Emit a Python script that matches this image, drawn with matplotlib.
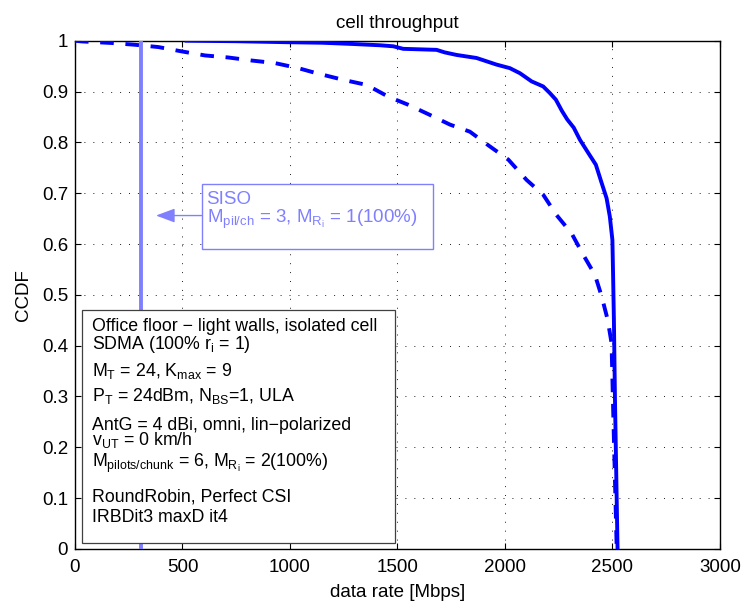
import numpy as np
import matplotlib.pyplot as plt
from matplotlib.patches import Rectangle

# Fonts: Helvetica-like look, math in the same regular font
plt.rcParams['font.family'] = ['Liberation Sans', 'DejaVu Sans']
plt.rcParams['mathtext.default'] = 'regular'

# Data
# solid curve (MIMO / SDMA)
mimo_rate = [519, 750, 991, 1150, 1295, 1420, 1481, 1527, 1682, 1720, 1775, 1868, 1961, 2023,
             2070, 2124, 2178, 2209, 2237, 2265, 2290, 2320, 2349, 2388, 2423, 2450, 2473,
             2488, 2500, 2503, 2507, 2512, 2520, 2524]
mimo_ccdf = [1.0, 0.999, 0.997, 0.996, 0.9935, 0.991, 0.989, 0.984, 0.982, 0.977, 0.972, 0.966,
             0.953, 0.946, 0.936, 0.920, 0.910, 0.897, 0.884, 0.862, 0.845, 0.829, 0.805,
             0.779, 0.756, 0.720, 0.690, 0.654, 0.608, 0.543, 0.45, 0.293, 0.096, 0.0]

# dashed curve
mimo2_rate = [0, 31, 171, 279, 388, 496, 605, 713, 822, 930, 1039, 1124, 1248, 1357, 1457,
              1550, 1651, 1744, 1837, 1930, 2016, 2101, 2178, 2240, 2310, 2364, 2419, 2450,
              2478, 2496, 2502, 2508, 2514, 2520]
mimo2_ccdf = [1.0, 0.9986, 0.9955, 0.992, 0.9875, 0.979, 0.971, 0.967, 0.961, 0.956, 0.946,
              0.936, 0.923, 0.913, 0.890, 0.874, 0.854, 0.835, 0.821, 0.792, 0.766, 0.726,
              0.697, 0.657, 0.621, 0.579, 0.539, 0.497, 0.451, 0.405, 0.30, 0.2, 0.1, 0.0]

# SISO reference rate
siso_rate = 308

x_ticks = [0, 500, 1000, 1500, 2000, 2500, 3000]
y_ticks = [0, 0.1, 0.2, 0.3, 0.4, 0.5, 0.6, 0.7, 0.8, 0.9, 1.0]
y_tick_labels = ['0', '0.1', '0.2', '0.3', '0.4', '0.5', '0.6', '0.7', '0.8', '0.9', '1']

# info box text, grouped the way the lines sit together in the box
info_blocks = ['Office floor \u2212 light walls, isolated cell\nSDMA (100% $r_i$ = 1)',
               '$M_T$ = 24, $K_{max}$ = 9',
               '$P_T$ = 24dBm, $N_{BS}$=1, ULA',
               'AntG = 4 dBi, omni, lin\u2212polarized\n$v_{UT}$ = 0 km/h',
               '$M_{pilots/chunk}$ = 6, $M_{R_i}$ = 2(100%)',
               'RoundRobin, Perfect CSI',
               'IRBDit3 maxD it4']
siso_text = 'SISO\n$M_{pil/ch}$ = 3, $M_{R_i}$ = 1(100%)'

# Colours
blue = '#0000ff'
light_blue = '#8080ff'

# Figure and axes
fig = plt.figure(figsize=(7.46, 6.03), dpi=100)
ax = fig.add_axes([0.1005, 0.0896, 0.8645, 0.8429])

# Curves
ax.plot(mimo_rate, mimo_ccdf, color=blue, linewidth=2.8, zorder=3)
ax.plot(mimo2_rate, mimo2_ccdf, color=blue, linewidth=2.8, dashes=(3.5, 3.0),
        dash_capstyle='butt', zorder=3)
ax.axvline(siso_rate, color=light_blue, linewidth=2.8, zorder=3)

# Axis setup
ax.set_xlim(0, 3000)
ax.set_ylim(0, 1)
ax.set_xticks(x_ticks)
ax.set_yticks(y_ticks)
ax.set_yticklabels(y_tick_labels)
ax.tick_params(direction='in', length=4, width=0.8, top=True, right=True,
               labelsize=13.5, colors='k')
ax.tick_params(axis='x', pad=7)
ax.tick_params(axis='y', pad=5)
for s in ax.spines.values():
    s.set_linewidth(1.0)
ax.grid(True, color='k', linewidth=0.6, linestyle=(0, (1.2, 9.5)), zorder=1)
ax.set_axisbelow(True)

ax.set_xlabel('data rate [Mbps]', fontsize=13.5, labelpad=6)
ax.set_ylabel('CCDF', fontsize=13.5, labelpad=7)
ax.set_title('cell throughput', fontsize=13.5, pad=9)

# Info box (bottom left)
ax.add_patch(Rectangle((31, 0.012), 1457, 0.458, facecolor='white', edgecolor='#404040',
                       linewidth=0.9, zorder=5))
# baseline of the last line in each block, and line spacing inside the block
info_y = [0.3931, 0.3406, 0.2913, 0.2047, 0.1620, 0.0931, 0.0537]
info_ls = [0.95, 1.0, 1.0, 0.75, 1.0, 1.0, 1.0]
for txt, yy, ls in zip(info_blocks, info_y, info_ls):
    ax.text(77, yy, txt, fontsize=12.8, va='baseline', ha='left', color='k',
            linespacing=ls, zorder=6)

# SISO annotation box with arrow
ax.add_patch(Rectangle((589, 0.591), 1078, 0.127, facecolor='white', edgecolor=light_blue,
                       linewidth=1.0, zorder=5))
ax.text(612, 0.641, siso_text, fontsize=13.5, va='baseline', color=light_blue,
        linespacing=0.98, zorder=6)
ax.annotate('', xy=(377, 0.656), xytext=(589, 0.656),
            arrowprops=dict(arrowstyle='-|>,head_length=1.15,head_width=0.43',
                            color=light_blue, linewidth=1.0, shrinkA=0, shrinkB=0),
            zorder=6)

fig.savefig('out.png', dpi=100)
